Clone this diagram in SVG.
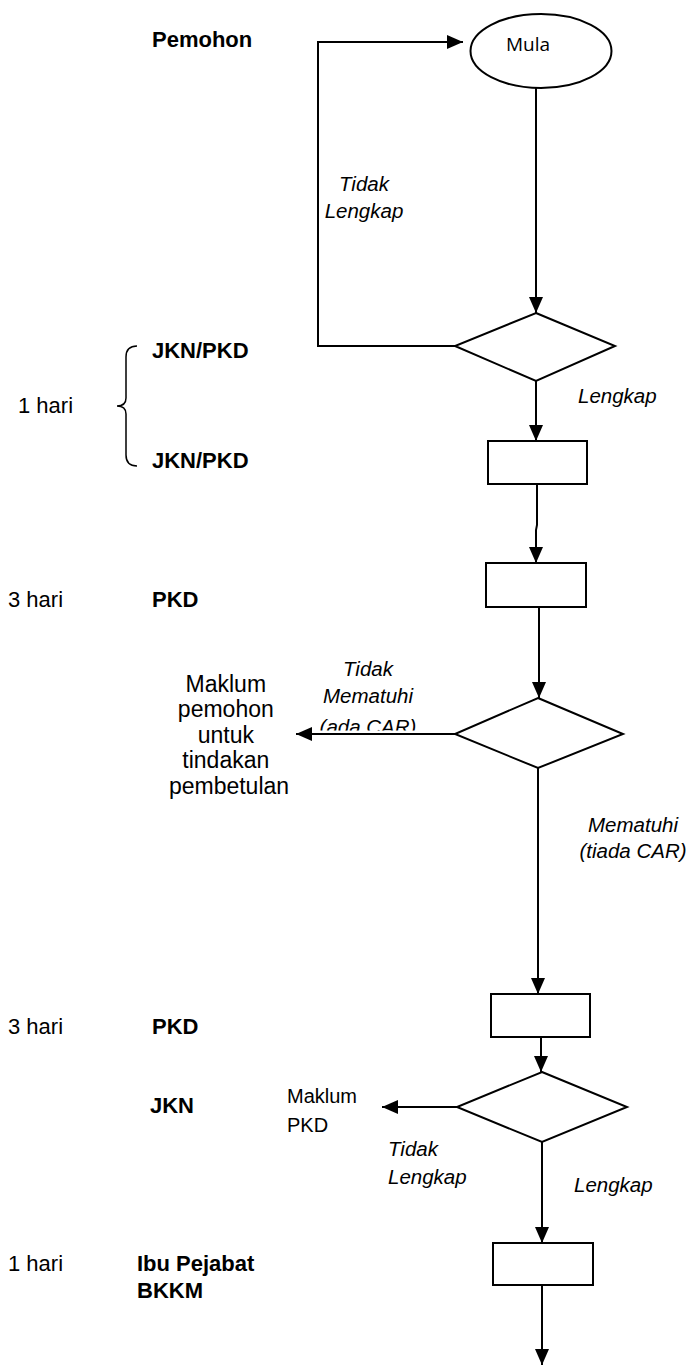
<svg xmlns="http://www.w3.org/2000/svg" width="689" height="1366" viewBox="0 0 689 1366">
<style>
  .shape { fill: #fff; stroke: #000; stroke-width: 2; }
  .conn { fill: none; stroke: #000; stroke-width: 2; }
  .lbl { font-family: "Liberation Sans", Arial, sans-serif; fill: #000; }
  .b { font-weight: bold; font-size: 22px; }
  .r { font-size: 22px; }
  .i { font-style: italic; font-size: 20.5px; }
  .brace { fill: none; stroke: #000; stroke-width: 1.5; }
</style>
<defs>
  <marker id="ah" viewBox="0 0 16 14" refX="16" refY="7" markerWidth="16" markerHeight="14" markerUnits="userSpaceOnUse" orient="auto">
    <path d="M0,0 L16,7 L0,14 z" fill="#000"/>
  </marker>
  <clipPath id="clipCar"><rect x="300" y="650" width="140" height="80.5"/></clipPath>
</defs>

<!-- left column labels -->
<g id="labels-left">
  <text class="lbl b" x="152" y="47">Pemohon</text>
  <text class="lbl b" x="152" y="358">JKN/PKD</text>
  <text class="lbl r" x="18" y="413">1 hari</text>
  <path class="brace" d="M137,346 Q126,346 126,357 L126,398 Q126,406 117,406 Q126,406 126,414 L126,455 Q126,466 137,466"/>
  <text class="lbl b" x="152" y="468">JKN/PKD</text>
  <text class="lbl r" x="8" y="607">3 hari</text>
  <text class="lbl b" x="152" y="607">PKD</text>
  <text class="lbl r" x="8" y="1034">3 hari</text>
  <text class="lbl b" x="152" y="1034">PKD</text>
  <text class="lbl b" x="150" y="1113">JKN</text>
  <text class="lbl r" x="8" y="1271">1 hari</text>
  <text class="lbl b" x="137" y="1271">Ibu Pejabat</text>
  <text class="lbl b" x="137" y="1298">BKKM</text>
</g>

<!-- nodes -->
<g id="start">
  <ellipse class="shape" cx="541" cy="51" rx="70.5" ry="37"/>
  <text x="528" y="51" text-anchor="middle" font-family="'Open Sans', 'Liberation Sans', sans-serif" font-size="19">Mula</text>
</g>
<g id="decision1">
  <polygon class="shape" points="536,313 615,346 536,381 455,346"/>
</g>
<g id="process1">
  <rect class="shape" x="488" y="441" width="99" height="43"/>
</g>
<g id="process2">
  <rect class="shape" x="486" y="563" width="100" height="44"/>
</g>
<g id="decision2">
  <polygon class="shape" points="538,698 623,734 538,768 455,734"/>
</g>
<g id="process3">
  <rect class="shape" x="491" y="994" width="99" height="43"/>
</g>
<g id="decision3">
  <polygon class="shape" points="542,1072 627,1107 542,1142 457,1107"/>
</g>
<g id="process4">
  <rect class="shape" x="493" y="1243" width="100" height="42"/>
</g>

<!-- connectors -->
<g id="connectors">
  <polyline class="conn" points="455,346 318,346 318,42 463,42" marker-end="url(#ah)"/>
  <line class="conn" x1="536" y1="88" x2="536" y2="313" marker-end="url(#ah)"/>
  <line class="conn" x1="536" y1="381" x2="536" y2="441" marker-end="url(#ah)"/>
  <polyline class="conn" points="537,484 537,525 536,530 536,563" marker-end="url(#ah)"/>
  <line class="conn" x1="539" y1="607" x2="539" y2="698" marker-end="url(#ah)"/>
  <line class="conn" x1="455" y1="734" x2="296" y2="734" marker-end="url(#ah)"/>
  <line class="conn" x1="538" y1="768" x2="538" y2="994" marker-end="url(#ah)"/>
  <line class="conn" x1="541" y1="1037" x2="541" y2="1072" marker-end="url(#ah)"/>
  <line class="conn" x1="457" y1="1107" x2="382" y2="1107" marker-end="url(#ah)"/>
  <line class="conn" x1="542" y1="1142" x2="542" y2="1243" marker-end="url(#ah)"/>
  <line class="conn" x1="542" y1="1285" x2="542" y2="1365" marker-end="url(#ah)"/>
</g>

<!-- connector labels -->
<g id="connector-labels">
  <text class="lbl i" x="364" y="191" text-anchor="middle">Tidak</text>
  <text class="lbl i" x="364" y="218" text-anchor="middle">Lengkap</text>
  <text class="lbl i" x="578" y="403">Lengkap</text>
  <text class="lbl i" x="368" y="676" text-anchor="middle">Tidak</text>
  <text class="lbl i" x="368" y="703" text-anchor="middle">Mematuhi</text>
  <text class="lbl i" x="368" y="734" text-anchor="middle" clip-path="url(#clipCar)">(ada CAR)</text>
  <text class="lbl i" x="633" y="832" text-anchor="middle">Mematuhi</text>
  <text class="lbl i" x="633" y="858" text-anchor="middle">(tiada CAR)</text>
  <text class="lbl i" x="388" y="1156">Tidak</text>
  <text class="lbl i" x="388" y="1184">Lengkap</text>
  <text class="lbl i" x="574" y="1192">Lengkap</text>
</g>

<!-- outcome texts -->
<g id="outcome1">
  <text class="lbl" font-size="23" text-anchor="middle">
    <tspan x="229" y="692">Maklum</tspan>
    <tspan x="229" y="717">pemohon</tspan>
    <tspan x="229" y="743">untuk</tspan>
    <tspan x="229" y="768">tindakan</tspan>
    <tspan x="229" y="794">pembetulan</tspan>
  </text>
</g>
<g id="outcome2">
  <text class="lbl" font-size="20" x="287" y="1103">Maklum</text>
  <text class="lbl" font-size="20" x="287" y="1132">PKD</text>
</g>
</svg>
